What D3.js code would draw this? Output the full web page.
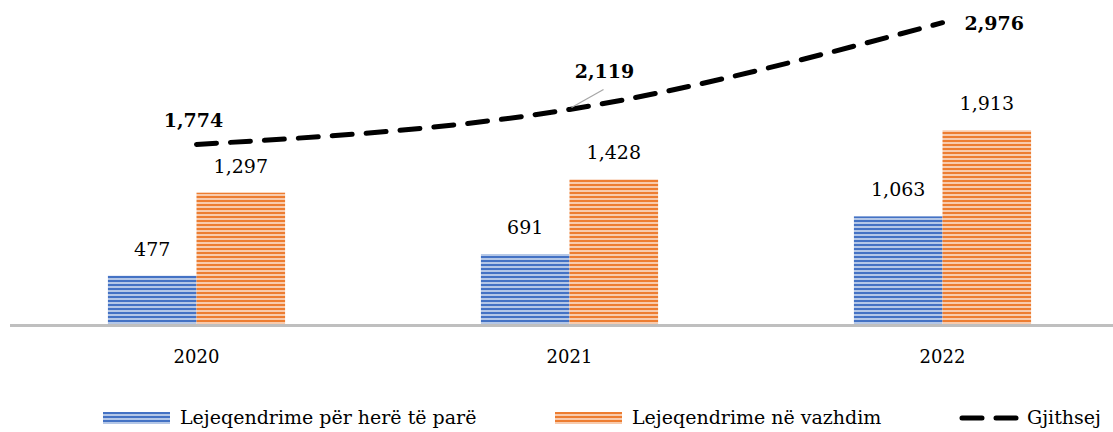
<!DOCTYPE html>
<html>
<head>
<meta charset="utf-8">
<script src="https://cdn.jsdelivr.net/npm/d3@7"></script>
<style>
  body { margin: 0; background: #fff; }
  svg { display: block; font-family: 'DejaVu Serif', serif; }
</style>
</head>
<body>
<script>
const years = ['2020', '2021', '2022']
const firstTime = [477, 691, 1063]
const ongoing = [1297, 1428, 1913]
const total = [1774, 2119, 2976]
const seriesNames = ['Lejeqendrime për herë të parë', 'Lejeqendrime në vazhdim', 'Gjithsej']

const W = 1113, H = 432
const fmt = d3.format(',')

const svg = d3.select('body').append('svg')
  .attr('width', W)
  .attr('height', H)

const defs = svg.append('defs')
const makeStripes = (id, color, light) => {
  const p = defs.append('pattern')
    .attr('id', id)
    .attr('patternUnits', 'userSpaceOnUse')
    .attr('width', 8)
    .attr('height', 4)
  p.append('rect').attr('width', 8).attr('height', 4).attr('fill', light)
  p.append('rect').attr('width', 8).attr('height', 2).attr('fill', color)
}
makeStripes('stripe-blue', '#4472c4', '#b4c7e7')
makeStripes('stripe-orange', '#ed7d31', '#f8cbad')

const x = d3.scaleBand()
  .domain(years)
  .range([10, 1129])

const y = d3.scaleLinear()
  .domain([0, 3200])
  .range([324, 0])

const sub = d3.scaleBand()
  .domain([0, 1])
  .range([0, x.bandwidth() * 0.475])

const barOffset = x.bandwidth() * (1 - 0.475) / 2

// bars
const series = [
  { values: firstTime, fill: 'url(#stripe-blue)', edge: '#4472c4' },
  { values: ongoing, fill: 'url(#stripe-orange)', edge: '#ed7d31' },
]

series.forEach((s, i) => {
  svg.append('g').selectAll('rect')
    .data(s.values)
    .join('rect')
    .attr('x', (d, j) => x(years[j]) + barOffset + sub(i))
    .attr('y', d => y(d))
    .attr('width', sub.bandwidth())
    .attr('height', d => y(0) - y(d))
    .attr('fill', s.fill)

  svg.append('g').selectAll('text')
    .data(s.values)
    .join('text')
    .attr('x', (d, j) => x(years[j]) + barOffset + sub(i) + sub.bandwidth() / 2)
    .attr('y', d => y(d) - 20)
    .attr('text-anchor', 'middle')
    .attr('font-size', 19)
    .attr('fill', '#000')
    .text(d => fmt(d))
})

// axis
svg.append('line')
  .attr('x1', 10).attr('x2', W)
  .attr('y1', y(0) + 1.5).attr('y2', y(0) + 1.5)
  .attr('stroke', '#bfbfbf')
  .attr('stroke-width', 3)

svg.append('g').selectAll('text')
  .data(years)
  .join('text')
  .attr('x', d => x(d) + x.bandwidth() / 2)
  .attr('y', 363)
  .attr('text-anchor', 'middle')
  .attr('font-size', 18)
  .text(d => d)

// total line
const cx = (d, i) => x(years[i]) + x.bandwidth() / 2
const line = d3.line()
  .x(cx)
  .y(d => y(d))
  .curve(d3.curveMonotoneX)

svg.append('path')
  .datum(total)
  .attr('d', line)
  .attr('fill', 'none')
  .attr('stroke', '#000')
  .attr('stroke-width', 5)
  .attr('stroke-linecap', 'round')
  .attr('stroke-dasharray', '20 14')

// leader line for middle label
svg.append('line')
  .attr('x1', cx(total[1], 1) + 2).attr('y1', y(total[1]) - 2)
  .attr('x2', cx(total[1], 1) + 34).attr('y2', y(total[1]) - 20)
  .attr('stroke', '#a6a6a6')
  .attr('stroke-width', 1.2)

const totalLabelPos = [
  { dx: -3, dy: -17, anchor: 'middle' },
  { dx: 35, dy: -31, anchor: 'middle' },
  { dx: 22, dy: 7, anchor: 'start' },
]

svg.append('g').selectAll('text')
  .data(total)
  .join('text')
  .attr('x', (d, i) => cx(d, i) + totalLabelPos[i].dx)
  .attr('y', (d, i) => y(d) + totalLabelPos[i].dy)
  .attr('text-anchor', (d, i) => totalLabelPos[i].anchor)
  .attr('font-size', 19)
  .attr('font-weight', 'bold')
  .text(d => fmt(d))

// legend
const legend = svg.append('g')
const legendItems = [
  { x: 103, name: seriesNames[0], fill: 'url(#stripe-blue)' },
  { x: 555, name: seriesNames[1], fill: 'url(#stripe-orange)' },
  { x: 960, name: seriesNames[2], dash: true },
]
legendItems.forEach(it => {
  if (it.dash) {
    legend.append('line')
      .attr('x1', it.x + 2).attr('x2', it.x + 56)
      .attr('y1', 418).attr('y2', 418)
      .attr('stroke', '#000')
      .attr('stroke-width', 5)
      .attr('stroke-linecap', 'round')
      .attr('stroke-dasharray', '20 14')
  } else {
    legend.append('rect')
      .attr('x', it.x).attr('y', 412)
      .attr('width', 67).attr('height', 12)
      .attr('fill', it.fill)
  }
  legend.append('text')
    .attr('x', it.x + (it.dash ? 67 : 77))
    .attr('y', 424)
    .attr('font-size', 19)
    .text(it.name)
})
</script>
</body>
</html>
